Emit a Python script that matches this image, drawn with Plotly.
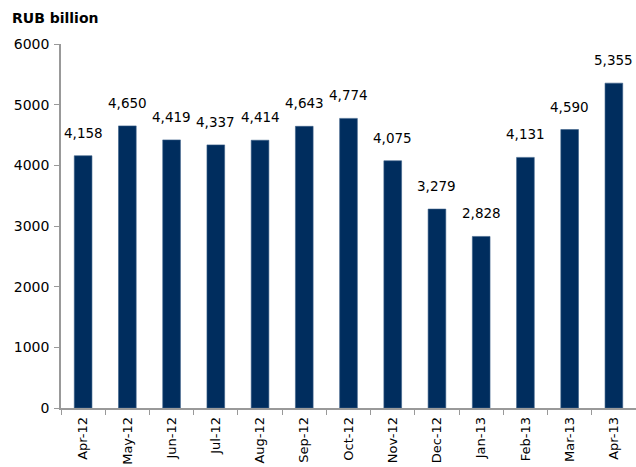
import plotly.graph_objects as go

months = ["Apr-12", "May-12", "Jun-12", "Jul-12", "Aug-12", "Sep-12", "Oct-12",
          "Nov-12", "Dec-12", "Jan-13", "Feb-13", "Mar-13", "Apr-13"]
values = [4158, 4650, 4419, 4337, 4414, 4643, 4774, 4075, 3279, 2828, 4131, 4590, 5355]
y_ticks = [0, 1000, 2000, 3000, 4000, 5000, 6000]
unit_label = "RUB billion"

FONT = "DejaVu Sans"
W, H = 636, 467
ML, MR, MT, MB = 61, 0, 44, 59
PH = H - MT - MB
PW = W - ML - MR

fig = go.Figure()
fig.add_trace(go.Bar(
    x=months, y=values,
    marker=dict(color="#002d5e", line=dict(color="#3b5f88", width=0.6)),
    hoverinfo="x+y",
))

for m, v in zip(months, values):
    fig.add_annotation(x=m, y=v, xref="x", yref="y", text=f"{v:,}",
                       showarrow=False, yanchor="bottom", yshift=13,
                       font=dict(family=FONT, size=13.5, color="black"))

fig.add_annotation(xref="paper", yref="paper", x=(10 - ML) / PW, y=1 + (MT - 18) / PH,
                   xanchor="left", yanchor="middle", showarrow=False,
                   text=f"<b>{unit_label}</b>",
                   font=dict(family=FONT, size=14, color="black"))

fig.update_layout(
    width=W, height=H,
    margin=dict(l=ML, r=MR, t=MT, b=MB, pad=0, autoexpand=False),
    plot_bgcolor="white", paper_bgcolor="white",
    bargap=0.6, showlegend=False,
    font=dict(family=FONT, size=13, color="black"),
)
fig.update_xaxes(
    type="category", tickangle=-90, showline=True, linecolor="#999999", linewidth=1.5,
    ticks="outside", tickson="boundaries", ticklen=5, tickcolor="#999999",
    ticklabelstandoff=2, automargin=False,
    showgrid=False, tickfont=dict(family=FONT, size=13, color="black"),
)
fig.update_yaxes(
    range=[0, 6000], tickvals=y_ticks, ticktext=[str(t) for t in y_ticks],
    showline=True, linecolor="#999999", linewidth=1.5,
    ticks="outside", ticklen=5, tickcolor="#999999", showgrid=False, zeroline=False,
    ticklabelstandoff=2, automargin=False,
    tickfont=dict(family=FONT, size=14, color="black"),
)

fig.write_html(
    "out.html",
    config={"displayModeBar": False},
    post_script="document.body.style.margin='0';document.body.style.overflow='hidden';",
)
